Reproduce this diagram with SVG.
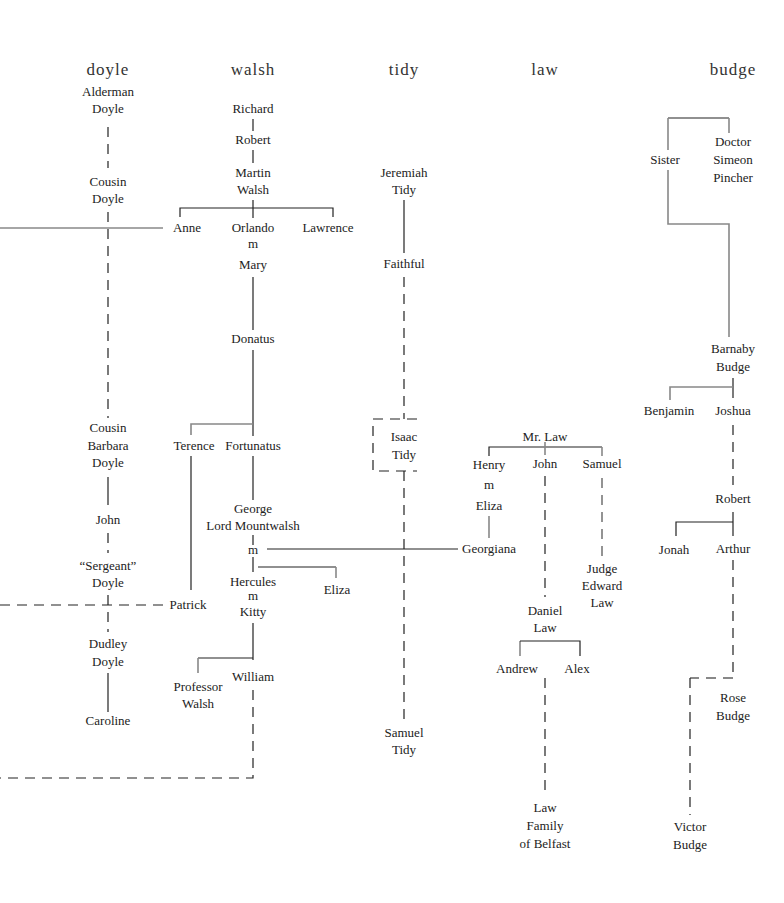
<svg xmlns="http://www.w3.org/2000/svg" width="784" height="903" viewBox="0 0 784 903">
<style>
text{font-family:"Liberation Serif","Times New Roman",serif;font-size:13px;fill:#222;text-anchor:middle}
.h{font-size:17px;letter-spacing:1px;fill:#333}
.s{stroke:#222;stroke-width:1.2;fill:none}
.g{stroke:#888;stroke-width:1.6;fill:none}
.d{stroke:#222;stroke-width:1.2;fill:none;stroke-dasharray:10,7}
.dg{stroke:#888;stroke-width:1.8;fill:none;stroke-dasharray:10,7}
</style>
<rect width="784" height="903" fill="#fff"/>
<g id="headers">
<text class="h" x="108" y="75">doyle</text>
<text class="h" x="253" y="75">walsh</text>
<text class="h" x="404" y="75">tidy</text>
<text class="h" x="545" y="75">law</text>
<text class="h" x="733" y="75">budge</text>
</g>
<g id="connectors">
<!-- Doyle -->
<path class="d" d="M108,127V168"/>
<path class="d" d="M108,212V418"/>
<path class="s" d="M108,477V505"/>
<path class="d" d="M108,533V553"/>
<path class="d" d="M108,595V632"/>
<path class="s" d="M108,673V712"/>
<path class="g" d="M0,228H163"/>
<path class="d" d="M0,605H163"/>
<!-- Walsh -->
<path class="s" d="M253,119V131"/>
<path class="s" d="M253,150V163"/>
<path class="s" d="M253,200V218"/>
<path class="s" d="M180,217V208H333V217"/>
<path class="s" d="M253,277V330"/>
<path class="s" d="M253,350V436"/>
<path class="g" d="M191,435V424H253"/>
<path class="s" d="M191,456V590"/>
<path class="s" d="M253,456V500"/>
<path class="s" d="M253,535V545"/>
<path class="s" d="M267,549H458"/>
<path class="s" d="M253,557V572"/>
<path class="s" d="M258,567H336"/>
<path class="g" d="M336,567V578"/>
<path class="s" d="M253,623V660"/>
<path class="s" d="M198,658H253"/>
<path class="g" d="M198,658V673"/>
<path class="d" d="M253,690V778H0"/>
<!-- Tidy -->
<path class="s" d="M404,200V253"/>
<path class="d" d="M404,277V419"/>
<path class="d" d="M404,471V722"/>
<path class="d" d="M417,419H373V471H417"/>
<!-- Law -->
<path class="s" d="M489,456V447H602"/>
<path class="g" d="M602,447V456"/>
<path class="g" d="M545,442V455"/>
<path class="g" d="M489,516V538"/>
<path class="d" d="M545,476V597"/>
<path class="dg" d="M602,478V556"/>
<path class="g" d="M520,656V641"/>
<path class="s" d="M520,641H580V656"/>
<path class="d" d="M545,678V797"/>
<!-- Budge -->
<path class="s" d="M668,118H729"/>
<path class="g" d="M668,118V150"/>
<path class="g" d="M729,118V133"/>
<path class="g" d="M668,170V224H729V337"/>
<path class="s" d="M733,378V398"/>
<path class="g" d="M670,400V387H733"/>
<path class="d" d="M733,425V485"/>
<path class="s" d="M733,512V536"/>
<path class="s" d="M676,536V522H733"/>
<path class="d" d="M733,560V678"/>
<path class="dg" d="M733,678H690"/>
<path class="d" d="M690,678V815"/>
</g>
<g id="doyle">
<g id="alderman-doyle"><text x="108" y="96">Alderman</text><text x="108" y="113">Doyle</text></g>
<g id="cousin-doyle"><text x="108" y="186">Cousin</text><text x="108" y="203">Doyle</text></g>
<g id="cousin-barbara-doyle"><text x="108" y="432">Cousin</text><text x="108" y="450">Barbara</text><text x="108" y="467">Doyle</text></g>
<g id="john-doyle"><text x="108" y="524">John</text></g>
<g id="sergeant-doyle"><text x="108" y="570">“Sergeant”</text><text x="108" y="587">Doyle</text></g>
<g id="dudley-doyle"><text x="108" y="648">Dudley</text><text x="108" y="666">Doyle</text></g>
<g id="caroline"><text x="108" y="725">Caroline</text></g>
</g>
<g id="walsh">
<g id="richard"><text x="253" y="113">Richard</text></g>
<g id="robert-walsh"><text x="253" y="144">Robert</text></g>
<g id="martin-walsh"><text x="253" y="177">Martin</text><text x="253" y="194">Walsh</text></g>
<g id="anne"><text x="187" y="232">Anne</text></g>
<g id="orlando-mary"><text x="253" y="232">Orlando</text><text x="253" y="248">m</text><text x="253" y="269">Mary</text></g>
<g id="lawrence"><text x="328" y="232">Lawrence</text></g>
<g id="donatus"><text x="253" y="343">Donatus</text></g>
<g id="terence"><text x="194" y="450">Terence</text></g>
<g id="fortunatus"><text x="253" y="450">Fortunatus</text></g>
<g id="george"><text x="253" y="513">George</text><text x="253" y="530">Lord Mountwalsh</text><text x="253" y="554">m</text></g>
<g id="patrick"><text x="188" y="609">Patrick</text></g>
<g id="hercules-kitty"><text x="253" y="586">Hercules</text><text x="253" y="600">m</text><text x="253" y="616">Kitty</text></g>
<g id="eliza-walsh"><text x="337" y="594">Eliza</text></g>
<g id="professor-walsh"><text x="198" y="691">Professor</text><text x="198" y="708">Walsh</text></g>
<g id="william"><text x="253" y="681">William</text></g>
</g>
<g id="tidy">
<g id="jeremiah-tidy"><text x="404" y="177">Jeremiah</text><text x="404" y="194">Tidy</text></g>
<g id="faithful"><text x="404" y="268">Faithful</text></g>
<g id="isaac-tidy"><text x="404" y="441">Isaac</text><text x="404" y="459">Tidy</text></g>
<g id="samuel-tidy"><text x="404" y="737">Samuel</text><text x="404" y="754">Tidy</text></g>
</g>
<g id="law">
<g id="mr-law"><text x="545" y="441">Mr. Law</text></g>
<g id="henry-eliza"><text x="489" y="469">Henry</text><text x="489" y="489">m</text><text x="489" y="510">Eliza</text></g>
<g id="georgiana"><text x="489" y="553">Georgiana</text></g>
<g id="john-law"><text x="545" y="468">John</text></g>
<g id="samuel-law"><text x="602" y="468">Samuel</text></g>
<g id="judge-edward-law"><text x="602" y="573">Judge</text><text x="602" y="590">Edward</text><text x="602" y="607">Law</text></g>
<g id="daniel-law"><text x="545" y="615">Daniel</text><text x="545" y="632">Law</text></g>
<g id="andrew"><text x="517" y="673">Andrew</text></g>
<g id="alex"><text x="577" y="673">Alex</text></g>
<g id="law-family"><text x="545" y="812">Law</text><text x="545" y="830">Family</text><text x="545" y="848">of Belfast</text></g>
</g>
<g id="budge">
<g id="sister"><text x="665" y="164">Sister</text></g>
<g id="doctor-pincher"><text x="733" y="146">Doctor</text><text x="733" y="164">Simeon</text><text x="733" y="182">Pincher</text></g>
<g id="barnaby-budge"><text x="733" y="353">Barnaby</text><text x="733" y="371">Budge</text></g>
<g id="benjamin"><text x="669" y="415">Benjamin</text></g>
<g id="joshua"><text x="733" y="415">Joshua</text></g>
<g id="robert-budge"><text x="733" y="503">Robert</text></g>
<g id="jonah"><text x="674" y="554">Jonah</text></g>
<g id="arthur"><text x="733" y="553">Arthur</text></g>
<g id="rose-budge"><text x="733" y="702">Rose</text><text x="733" y="720">Budge</text></g>
<g id="victor-budge"><text x="690" y="831">Victor</text><text x="690" y="849">Budge</text></g>
</g>
</svg>
